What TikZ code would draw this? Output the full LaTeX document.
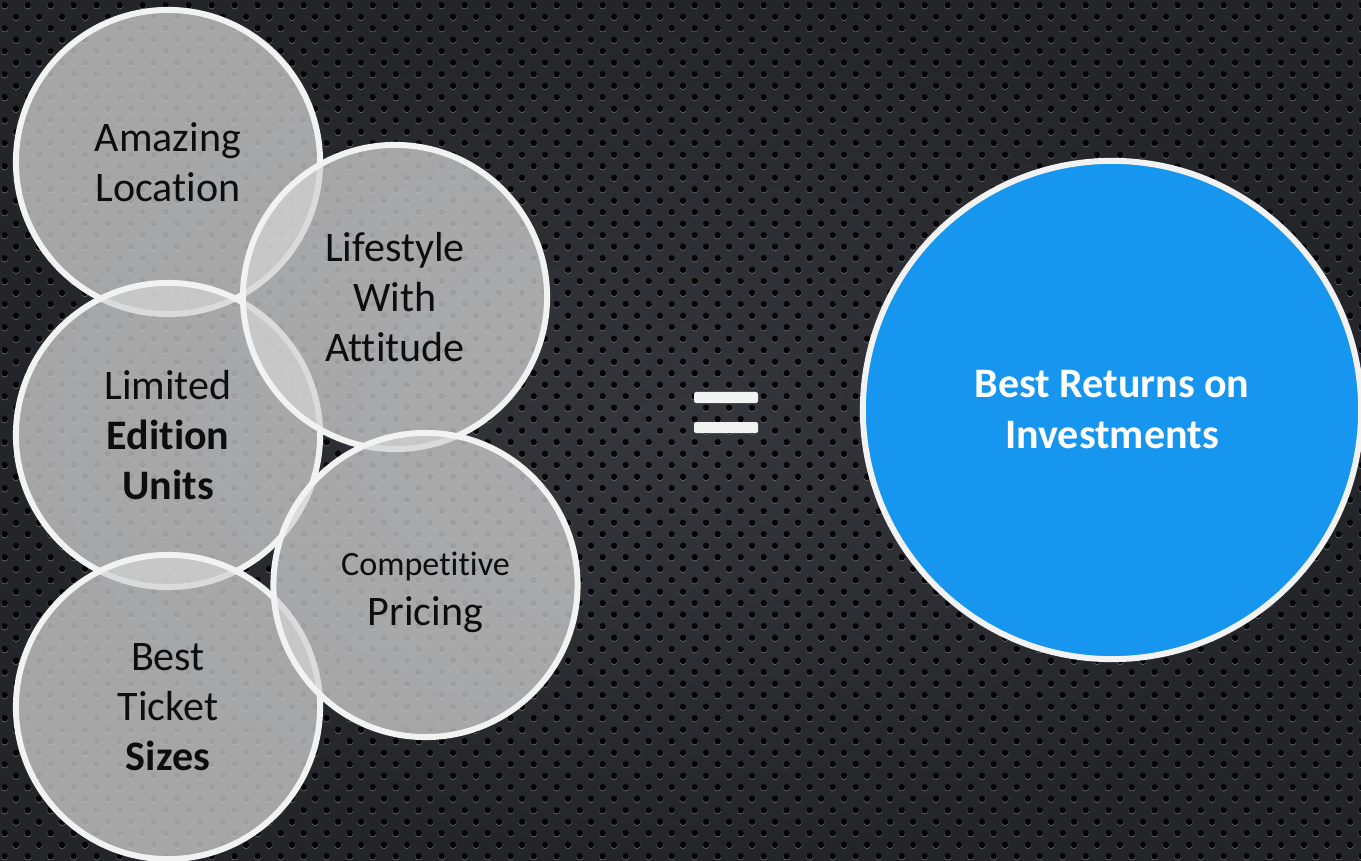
\documentclass[tikz,border=0pt]{standalone}
\usepackage{fontspec}
\setmainfont{Carlito}[Ligatures=NoCommon]
\usetikzlibrary{patterns.meta}
\definecolor{bgOuter}{RGB}{36,37,41}
\definecolor{bgInner}{RGB}{54,55,60}
\definecolor{holeCol}{RGB}{4,4,6}
\definecolor{holeRim}{RGB}{110,111,116}
\definecolor{ringCol}{RGB}{242,242,242}
\definecolor{discGray}{RGB}{210,210,210}
\definecolor{discBlue}{RGB}{22,150,238}
\definecolor{txtCol}{RGB}{13,13,13}
% perforated metal plate
\tikzdeclarepattern{
  name=perf,
  type=colored,
  bottom left={(0cm,0cm)},
  top right={(0.2333cm,0.2333cm)},
  tile size={(0.2333cm,0.2333cm)},
  code={
    \fill[holeRim] (0.0583cm,0.0533cm) circle[radius=0.036cm];
    \fill[holeCol] (0.0583cm,0.0593cm) circle[radius=0.034cm];
    \fill[holeRim] (0.1750cm,0.1700cm) circle[radius=0.036cm];
    \fill[holeCol] (0.1750cm,0.1760cm) circle[radius=0.034cm];
  }
}
\tikzset{
  disc/.style={circle,draw=ringCol,line width=1.7pt,fill=discGray,
    fill opacity=0.75,text opacity=1,minimum size=3.04cm,inner sep=0pt,
    align=center,text=txtCol,font=\fontsize{11.95}{14.3}\selectfont},
  bigdisc/.style={disc,fill=discBlue,fill opacity=1,minimum size=4.98cm,
    text=white,font=\fontsize{11.95}{14.5}\selectfont\bfseries},
  eqbar/.style={fill=ringCol,rounded corners=0.6pt},
}

\begin{document}
\begin{tikzpicture}[x=0.01cm,y=-0.01cm]
\useasboundingbox (0,0) rectangle (1361,861);

% =====================================================================
%  BACKGROUND — dark perforated plate
% =====================================================================
\shade[inner color=bgInner,outer color=bgOuter] (0,0) rectangle (1361,861);
\fill[pattern=perf] (0,0) rectangle (1361,861);

% =====================================================================
%  LEFT — overlapping grey discs
% =====================================================================
\node[disc] (loc)   at (168,162)   {Amazing\\Location};
\node[disc] (ltd)   at (168,435)   {Limited\\\textbf{Edition}\\\textbf{Units}};
\node[disc] (size)  at (168,707)   {Best\\Ticket\\\textbf{Sizes}};
\node[disc] (life)  at (395,297)   {Lifestyle\\With\\Attitude};
% strut pushes the two lines a little lower in the disc
\node[disc] (price) at (425.5,585)
  {{\fontsize{9.7}{11}\selectfont\rule{0pt}{11pt}Competitive}\\Pricing};

% =====================================================================
%  MIDDLE — equals sign
% =====================================================================
\fill[eqbar] (694,392) rectangle (758,403);
\fill[eqbar] (694,422) rectangle (758,433);

% =====================================================================
%  RIGHT — result disc
% =====================================================================
\node[bigdisc] (roi) at (1112,410) {Best Returns on\\Investments};

\end{tikzpicture}
\end{document}
